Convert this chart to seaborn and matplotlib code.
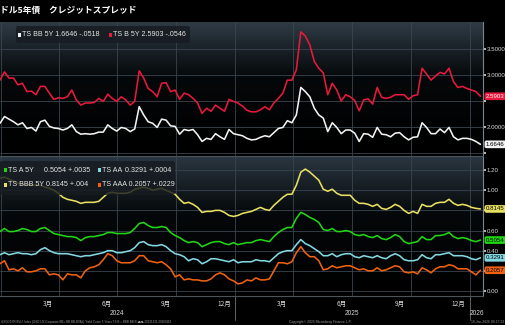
import numpy as np
import pandas as pd
import matplotlib
matplotlib.use("Agg")
import matplotlib.pyplot as plt
import matplotlib.dates as mdates
import matplotlib.transforms as mtrans
from matplotlib.patches import FancyBboxPatch, Rectangle
from matplotlib.colors import LinearSegmentedColormap
import seaborn as sns

# ---------------- data ----------------
dates = pd.date_range("2023-12-31", periods=108, freq="7D")

b5y = [2.90, 3.06, 2.94, 2.94, 2.81, 2.84, 2.68, 2.69, 2.62, 2.78,
       2.78, 2.65, 2.53, 2.56, 2.55, 2.58, 2.71, 2.52, 2.42, 2.46,
       2.46, 2.47, 2.55, 2.49, 2.63, 2.55, 2.49, 2.58, 2.52, 2.42,
       2.49, 3.08, 2.94, 2.74, 2.68, 2.58, 2.84, 2.85, 2.68, 2.71,
       2.53, 2.65, 2.62, 2.55, 2.46, 2.26, 2.36, 2.30, 2.42, 2.36,
       2.30, 2.53, 2.49, 2.46, 2.40, 2.32,
       2.29, 2.29, 2.33, 2.39, 2.33, 2.46, 2.55, 2.65, 2.90, 2.90,
       3.10, 3.83, 3.75, 3.58, 3.26, 3.13, 3.04, 2.62, 2.84, 2.71,
       2.50, 2.62, 2.58, 2.51, 2.31, 2.52, 2.54, 2.44, 2.76, 2.57,
       2.55, 2.57, 2.62, 2.62, 2.62, 2.53, 2.60, 2.62, 3.13, 3.02,
       2.90, 2.98, 3.05, 3.02, 3.13, 2.87, 2.76, 2.78, 2.74, 2.71,
       2.68, 2.5903]

bb5y = [2.07, 2.20, 2.15, 2.10, 2.04, 2.08, 1.97, 1.99, 1.92, 2.10,
        2.13, 2.01, 1.98, 1.97, 1.94, 1.97, 2.04, 1.91, 1.86, 1.87,
        1.86, 1.87, 1.90, 1.90, 2.04, 1.97, 1.92, 1.99, 1.97, 1.91,
        1.96, 2.39, 2.23, 2.10, 2.07, 1.99, 2.15, 2.13, 2.02, 2.01,
        1.86, 1.95, 1.93, 1.95, 1.85, 1.72, 1.78, 1.76, 1.87, 1.81,
        1.76, 1.95, 1.87, 1.85, 1.83, 1.78,
        1.75, 1.76, 1.80, 1.83, 1.81, 1.89, 1.97, 1.99, 2.12, 2.08,
        2.23, 2.76, 2.68, 2.58, 2.36, 2.23, 2.17, 1.91, 2.08, 1.99,
        1.87, 1.94, 1.94, 1.88, 1.72, 1.87, 1.86, 1.80, 1.99, 1.86,
        1.85, 1.81, 1.88, 1.89, 1.81, 1.75, 1.80, 1.81, 2.08, 1.99,
        1.87, 1.87, 1.96, 1.89, 1.99, 1.81, 1.75, 1.78, 1.78, 1.76,
        1.72, 1.6646]

bbb5y = [1.12, 1.13, 1.11, 1.09, 1.07, 1.06, 1.06, 1.05, 1.05, 1.05,
         1.03, 1.02, 1.00, 0.97, 0.93, 0.91, 0.90, 0.89, 0.87, 0.88,
         0.88, 0.88, 0.89, 0.93, 0.97, 0.98, 0.97, 0.97, 0.97, 0.98,
         1.01, 1.02, 1.03, 1.02, 1.00, 1.01, 1.02, 1.00, 0.98, 0.96,
         0.91, 0.87, 0.88, 0.86, 0.83, 0.78, 0.79, 0.79, 0.80, 0.80,
         0.78, 0.75, 0.74, 0.75, 0.77, 0.78,
         0.79, 0.81, 0.83, 0.81, 0.80, 0.85, 0.89, 0.93, 0.96, 0.96,
         1.05, 1.18, 1.21, 1.18, 1.14, 1.10, 1.01, 0.99, 1.01, 0.97,
         0.95, 0.95, 0.95, 0.90, 0.87, 0.87, 0.86, 0.84, 0.86, 0.82,
         0.81, 0.83, 0.86, 0.84, 0.80, 0.77, 0.79, 0.77, 0.86, 0.84,
         0.84, 0.87, 0.88, 0.88, 0.91, 0.87, 0.85, 0.86, 0.85, 0.83,
         0.82, 0.8145]

a5y = [0.59, 0.62, 0.59, 0.59, 0.60, 0.62, 0.61, 0.59, 0.59, 0.62,
       0.63, 0.60, 0.57, 0.56, 0.55, 0.54, 0.54, 0.53, 0.50, 0.53,
       0.54, 0.54, 0.55, 0.56, 0.58, 0.58, 0.57, 0.57, 0.57, 0.58,
       0.62, 0.67, 0.68, 0.65, 0.63, 0.63, 0.64, 0.63, 0.58, 0.55,
       0.53, 0.50, 0.48, 0.49, 0.48, 0.44, 0.46, 0.48, 0.49, 0.49,
       0.47, 0.46, 0.48, 0.46, 0.47, 0.48,
       0.48, 0.50, 0.51, 0.50, 0.49, 0.54, 0.58, 0.61, 0.63, 0.63,
       0.72, 0.78, 0.76, 0.73, 0.71, 0.68, 0.61, 0.60, 0.62, 0.59,
       0.59, 0.60, 0.59, 0.56, 0.55, 0.56, 0.54, 0.53, 0.55, 0.52,
       0.51, 0.53, 0.56, 0.54, 0.49, 0.47, 0.48, 0.49, 0.54, 0.51,
       0.51, 0.55, 0.55, 0.56, 0.58, 0.54, 0.52, 0.53, 0.52, 0.50,
       0.49, 0.5054]

aa = [0.36, 0.38, 0.36, 0.37, 0.38, 0.37, 0.37, 0.36, 0.37, 0.41,
      0.43, 0.40, 0.38, 0.37, 0.37, 0.37, 0.36, 0.35, 0.34, 0.35,
      0.35, 0.36, 0.37, 0.38, 0.40, 0.40, 0.38, 0.38, 0.39, 0.40,
      0.43, 0.48, 0.49, 0.46, 0.45, 0.45, 0.46, 0.44, 0.40, 0.37,
      0.36, 0.34, 0.30, 0.32, 0.31, 0.27, 0.29, 0.32, 0.32, 0.31,
      0.30, 0.29, 0.31, 0.28, 0.29, 0.29,
      0.29, 0.31, 0.30, 0.30, 0.29, 0.33, 0.37, 0.39, 0.40, 0.40,
      0.46, 0.51, 0.47, 0.45, 0.42, 0.39, 0.35, 0.35, 0.37, 0.34,
      0.36, 0.37, 0.37, 0.34, 0.33, 0.35, 0.34, 0.33, 0.35, 0.33,
      0.32, 0.35, 0.37, 0.35, 0.31, 0.30, 0.30, 0.31, 0.36, 0.33,
      0.32, 0.36, 0.36, 0.37, 0.38, 0.35, 0.35, 0.35, 0.34, 0.32,
      0.31, 0.3291]

aaa = [0.27, 0.30, 0.21, 0.22, 0.20, 0.23, 0.19, 0.19, 0.20, 0.22,
       0.22, 0.16, 0.17, 0.16, 0.11, 0.17, 0.16, 0.16, 0.13, 0.20,
       0.23, 0.24, 0.26, 0.31, 0.37, 0.35, 0.30, 0.28, 0.28, 0.28,
       0.30, 0.35, 0.35, 0.30, 0.29, 0.28, 0.29, 0.26, 0.22, 0.14,
       0.16, 0.11, 0.12, 0.11, 0.11, 0.10, 0.10, 0.12, 0.16, 0.18,
       0.16, 0.12, 0.10, 0.07, 0.08, 0.11,
       0.10, 0.13, 0.11, 0.11, 0.12, 0.20, 0.28, 0.28, 0.27, 0.29,
       0.38, 0.44, 0.38, 0.34, 0.34, 0.30, 0.21, 0.22, 0.25, 0.23,
       0.24, 0.25, 0.25, 0.23, 0.21, 0.22, 0.20, 0.20, 0.23, 0.20,
       0.21, 0.23, 0.25, 0.24, 0.19, 0.18, 0.19, 0.17, 0.23, 0.21,
       0.18, 0.22, 0.24, 0.24, 0.26, 0.25, 0.22, 0.22, 0.22, 0.19,
       0.16, 0.2057]

top_ticks = [1.5, 2.0, 2.5, 3.0, 3.5]
top_labels = ["", "2.0000", "", "3.0000", "3.5000"]
low_ticks = [0.0, 0.2, 0.4, 0.6, 0.8, 1.0, 1.2]
low_labels = ["0.00", "", "0.40", "0.60", "", "1.00", "1.20"]
month_labels = {3: "3月", 6: "6月", 9: "9月", 12: "12月"}
years = ["2024", "2025", "2026"]
title = "ドル5年債　クレジットスプレッド"

RED = "#e8193c"
WHITE = "#f2f2f2"
YELLOW = "#e8e063"
GREEN = "#22d615"
CYAN = "#84d8e2"
ORANGE = "#f0620f"

# ---------------- style ----------------
sns.set_theme(style="dark")
SANS = ["Liberation Sans", "DejaVu Sans", "Noto Sans CJK JP"]
CJK = ["Noto Sans CJK JP", "DejaVu Sans"]
plt.rcParams["font.family"] = SANS
plt.rcParams["axes.unicode_minus"] = False

W, H = 505, 325
fig = plt.figure(figsize=(W / 100, H / 100), dpi=100, facecolor="black")


def fx(x):
    return x / W


def fy(y):
    return 1 - y / H


AX_R = 483
top_box = [0, fy(156), fx(AX_R), (156 - 22) / H]
low_box = [0, fy(296), fx(AX_R), (296 - 157) / H]


def background(box, top_col):
    bg = fig.add_axes(box, zorder=-5)
    cmap = LinearSegmentedColormap.from_list("g", ["#000000", "#05080a", top_col])
    grad = np.linspace(0, 1, 256).reshape(-1, 1) ** 1.3
    bg.imshow(grad, aspect="auto", cmap=cmap, origin="lower", extent=[0, 1, 0, 1])
    bg.set_axis_off()


background(top_box, "#2f3b45")
background(low_box, "#2a3640")

ax1 = fig.add_axes(top_box)
ax2 = fig.add_axes(low_box)

xmin, xmax = pd.Timestamp("2023-12-31"), pd.Timestamp("2026-01-22")

# top panel lines
sns.lineplot(x=dates, y=bb5y, ax=ax1, color=WHITE, lw=1.15)
sns.lineplot(x=dates, y=b5y, ax=ax1, color=RED, lw=1.15)
# lower panel lines
sns.lineplot(x=dates, y=aaa, ax=ax2, color=ORANGE, lw=1.15)
sns.lineplot(x=dates, y=aa, ax=ax2, color=CYAN, lw=1.15)
sns.lineplot(x=dates, y=a5y, ax=ax2, color=GREEN, lw=1.15)
sns.lineplot(x=dates, y=bbb5y, ax=ax2, color=YELLOW, lw=1.15)

ax1.set_ylim(1.44, 4.02)
ax1.set_yticks(top_ticks)
ax1.set_yticklabels(top_labels)
ax2.set_ylim(-0.05, 1.33)
ax2.set_yticks(low_ticks)
ax2.set_yticklabels(low_labels)

for ax in (ax1, ax2):
    ax.set_facecolor("none")
    ax.set_xlim(xmin, xmax)
    ax.set_xlabel("")
    ax.set_ylabel("")
    ax.yaxis.tick_right()
    for s in ("left", "top"):
        ax.spines[s].set_visible(False)
    ax.spines["right"].set_color("#7d858c")
    ax.spines["right"].set_linewidth(0.8)
    ax.spines["bottom"].set_color("#4a545c")
    ax.spines["bottom"].set_linewidth(0.8)
    ax.xaxis.set_major_locator(mdates.MonthLocator(bymonth=[1, 4, 7, 10]))
    ax.xaxis.set_major_formatter(plt.NullFormatter())
    ax.grid(True, which="major", color="#3a454f", lw=0.6)
    ax.tick_params(axis="y", which="major", labelsize=4.4, colors="#d8d8d8",
                   length=1.8, width=1.2, pad=1.0, direction="out")
    ax.tick_params(axis="x", which="both", length=0)
    ax.set_axisbelow(True)

# month labels (mid-month, minor ticks)
ax2.xaxis.set_minor_locator(mdates.MonthLocator(bymonth=[3, 6, 9, 12], bymonthday=15))
ax2.xaxis.set_minor_formatter(plt.FuncFormatter(
    lambda v, p: month_labels[mdates.num2date(v).month]))
ax2.tick_params(axis="x", which="minor", labelsize=4.7, colors="#d8d8d8", pad=2.5)
for t in ax2.xaxis.get_minorticklabels():
    t.set_fontfamily(CJK)
ax1.xaxis.set_minor_formatter(plt.NullFormatter())

# year labels and separators
bt = mtrans.blended_transform_factory(ax2.transData, ax2.transAxes)
year_pos = [pd.Timestamp("2024-07-01"), pd.Timestamp("2025-07-01"), pd.Timestamp("2026-01-12")]
for d, lab in zip(year_pos, years):
    ax2.text(d, -0.125, lab, transform=bt, ha="center", va="center",
             fontsize=4.7, color="#d8d8d8", clip_on=False)
for d in [pd.Timestamp("2025-01-01"), pd.Timestamp("2026-01-01")]:
    ax2.plot([d, d], [0, -0.17], transform=bt, color="#6b737a", lw=0.6, clip_on=False)


# right value labels
def value_tag(ax, val, fc, tc):
    tr = mtrans.blended_transform_factory(ax.transAxes, ax.transData)
    ax.text(1.006, val, f"{val:.4f}", transform=tr, ha="left", va="center",
            fontsize=4.4, color=tc, clip_on=False, zorder=10,
            bbox=dict(boxstyle="round,pad=0.22,rounding_size=0.3", fc=fc, ec="none"))


value_tag(ax1, b5y[-1], RED, "white")
value_tag(ax1, bb5y[-1], WHITE, "black")
value_tag(ax2, bbb5y[-1], YELLOW, "black")
value_tag(ax2, a5y[-1], GREEN, "black")
value_tag(ax2, aa[-1], CYAN, "black")
value_tag(ax2, aaa[-1], ORANGE, "black")


# legends
def legend_box(x0, y0, x1, y1):
    p = FancyBboxPatch((fx(x0), fy(y1)), fx(x1) - fx(x0), fy(y0) - fy(y1),
                       boxstyle="round,pad=0,rounding_size=0.006",
                       transform=fig.transFigure, fc="#161b20", ec="none",
                       alpha=0.82, zorder=20)
    fig.add_artist(p)


def swatch(x, y, col):
    r = Rectangle((fx(x), fy(y + 2.2)), fx(3), 4.4 / H, transform=fig.transFigure,
                  fc=col, ec="none", zorder=22)
    fig.add_artist(r)


def ltext(x, y, s):
    fig.text(fx(x), fy(y), s, fontsize=5.1, color="#e6e6e6", va="center",
             ha="left", zorder=23)


legend_box(16, 26, 190, 43)
swatch(18, 35, WHITE)
ltext(22, 35, f"TS BB 5Y {bb5y[-1]:.4f} -.0518")
swatch(109, 35, RED)
ltext(113, 35, f"TS B 5Y {b5y[-1]:.4f} -.0546")

legend_box(0, 161, 175, 195)
swatch(4, 170, GREEN)
ltext(8, 170, "TS A 5Y")
ltext(44, 170, f"{a5y[-1]:.4f} +.0035")
swatch(98, 170, CYAN)
ltext(102, 170, "TS AA")
ltext(125, 170, f"{aa[-1]:.4f} +.0004")
swatch(4, 185, YELLOW)
ltext(8, 185, f"TS BBB 5Y {bbb5y[-1]:.4f} +.004")
swatch(98, 185, ORANGE)
ltext(102, 185, f"TS AAA {aaa[-1]:.4f} +.0229")

# title
fig.text(fx(0), fy(10), title, fontsize=6.3, fontweight="bold", color="white",
         ha="left", va="center", family=CJK)

# footer
fig.text(fx(1), fy(322), "USGG5YR BVLI Index (USD US Corporate BB+ BB BB-BVAL) Yield Curve 5 Years TS B = BBB BB B 週足 20231231-20260118",
         fontsize=2.2, color="#9a9a9a", ha="left", va="center", family=SANS)
fig.text(fx(320), fy(322), "Copyright© 2026 Bloomberg Finance L.P.",
         fontsize=2.4, color="#9a9a9a", ha="center", va="center")
fig.text(fx(504), fy(322), "19-Jan-2026 09:17:23", fontsize=2.4, color="#9a9a9a",
         ha="right", va="center")

fig.savefig("out.png", dpi=100, facecolor="black")
